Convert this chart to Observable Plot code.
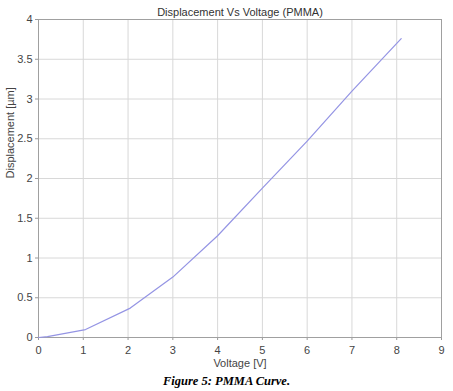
<!DOCTYPE html>
<html>
<head>
<meta charset="utf-8">
<script src="https://cdn.jsdelivr.net/npm/d3@7"></script>
<script src="https://cdn.jsdelivr.net/npm/@observablehq/plot@0.6"></script>
<style>
  html, body { margin: 0; padding: 0; background: #fff; }
  #chart { width: 453px; }
  #caption { width: 453px; text-align: center; font-family: "Liberation Serif", serif; font-weight: bold; font-style: italic; font-size: 12.5px; line-height: 19px; height: 19px; color: #000; }
</style>
</head>
<body>
<div id="chart"></div>
<div id="caption">Figure 5: PMMA Curve.</div>
<script>
const voltage = [0, 0.2, 1.05, 2.05, 3, 4, 5, 6, 7, 8.1];
const displacement = [0, 0.01, 0.1, 0.37, 0.76, 1.28, 1.88, 2.47, 3.1, 3.76];
const xTicks = [0, 1, 2, 3, 4, 5, 6, 7, 8, 9];
const yTicks = [0, 0.5, 1, 1.5, 2, 2.5, 3, 3.5, 4];
const title = "Displacement Vs Voltage (PMMA)";
const xLabel = "Voltage [V]";
const yLabel = "Displacement [\u00b5m]";

const data = voltage.map((v, i) => ({v, d: displacement[i]}));

const chart = Plot.plot({
  width: 453,
  height: 372,
  marginTop: 19,
  marginLeft: 38,
  marginRight: 12,
  marginBottom: 35,
  style: {fontFamily: "'Liberation Sans', sans-serif", fontSize: "11px", color: "#333", background: "#fff"},
  x: {domain: [0, 9], ticks: xTicks, tickFormat: d => String(d), label: null},
  y: {domain: [0, 4], ticks: yTicks, tickFormat: d => String(d), label: null},
  marks: [
    Plot.gridX(xTicks, {stroke: "#d8d8d8", strokeOpacity: 1}),
    Plot.gridY(yTicks, {stroke: "#d8d8d8", strokeOpacity: 1}),
    Plot.axisX({ticks: xTicks, tickSize: 3, tickPadding: 6, tickFormat: d => String(d), stroke: "#999", fill: "#444", label: null}),
    Plot.axisY({ticks: yTicks, tickSize: 3, tickPadding: 3, tickFormat: d => String(d), stroke: "#999", fill: "#444", label: null}),
    Plot.frame({stroke: "#a0a0a0"}),
    Plot.line(data, {x: "v", y: "d", stroke: "#9494e4", strokeWidth: 1.2}),
    Plot.text([title], {frameAnchor: "top", dy: -11, text: d => d, fill: "#333", fontSize: 11}),
    Plot.text([xLabel], {frameAnchor: "bottom", dy: 29, text: d => d, fill: "#444", fontSize: 11}),
    Plot.text([yLabel], {frameAnchor: "left", dx: -28, rotate: -90, text: d => d, fill: "#444", fontSize: 11})
  ]
});
document.getElementById("chart").appendChild(chart);
</script>
</body>
</html>
